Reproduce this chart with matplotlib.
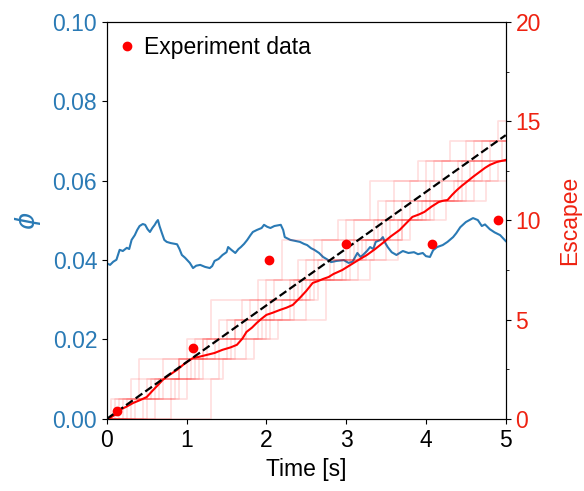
import matplotlib
matplotlib.use('Agg')
import matplotlib.pyplot as plt
from matplotlib.ticker import MultipleLocator

# phi (volume fraction)
phi_t = [0.0, 0.04, 0.08, 0.12, 0.16, 0.20, 0.25, 0.28, 0.31, 0.35, 0.38, 0.41,
         0.45, 0.48, 0.51, 0.54, 0.57, 0.60, 0.62, 0.64, 0.66, 0.69, 0.72, 0.75,
         0.80, 0.88, 0.91, 0.94, 0.98, 1.04, 1.08, 1.12, 1.17, 1.23, 1.29, 1.32,
         1.35, 1.40, 1.45, 1.50, 1.52, 1.56, 1.61, 1.65, 1.68, 1.72, 1.76, 1.80,
         1.83, 1.88, 1.94, 1.97, 2.01, 2.05, 2.10, 2.18, 2.21, 2.23, 2.30, 2.42,
         2.47, 2.51, 2.56, 2.60, 2.66, 2.71, 2.76, 2.81, 2.88, 2.97, 3.03, 3.08,
         3.14, 3.18, 3.21, 3.26, 3.30, 3.34, 3.37, 3.43, 3.46, 3.49, 3.52, 3.57,
         3.63, 3.67, 3.71, 3.78, 3.85, 3.90, 3.96, 4.00, 4.05, 4.09, 4.14, 4.21,
         4.27, 4.34, 4.38, 4.43, 4.50, 4.59, 4.65, 4.70, 4.74, 4.80, 4.86, 4.93,
         5.0]
phi_v = [0.0392, 0.0388, 0.0396, 0.0401, 0.0426, 0.0423, 0.0431, 0.0428, 0.0451,
         0.0463, 0.0476, 0.0486, 0.0491, 0.0489, 0.0478, 0.0471, 0.0481, 0.0489,
         0.0496, 0.0501, 0.0486, 0.0468, 0.0451, 0.0446, 0.0443, 0.0440, 0.0428,
         0.0413, 0.0406, 0.0393, 0.0380, 0.0386, 0.0388, 0.0383, 0.0380, 0.0385,
         0.0398, 0.0403, 0.0413, 0.0420, 0.0433, 0.0426, 0.0418, 0.0428, 0.0433,
         0.0441, 0.0451, 0.0463, 0.0471, 0.0476, 0.0481, 0.0489, 0.0484, 0.0481,
         0.0486, 0.0489, 0.0476, 0.0458, 0.0451, 0.0446, 0.0441, 0.0438, 0.0430,
         0.0426, 0.0418, 0.0408, 0.0402, 0.0395, 0.0398, 0.0400, 0.0393, 0.0396,
         0.0418, 0.0408, 0.0413, 0.0423, 0.0433, 0.0428, 0.0446, 0.0451, 0.0458,
         0.0443, 0.0433, 0.0420, 0.0413, 0.0418, 0.0423, 0.0418, 0.0420, 0.0415,
         0.0418, 0.0410, 0.0408, 0.0425, 0.0433, 0.0438, 0.0446, 0.0458, 0.0468,
         0.0483, 0.0496, 0.0506, 0.0501, 0.0486, 0.0490, 0.0478, 0.0470, 0.0463,
         0.0448]

# mean number of escapees (solid red)
mean_t = [0.0, 0.04, 0.10, 0.16, 0.24, 0.33, 0.42, 0.50, 0.58, 0.64, 0.70, 0.78,
          0.88, 0.98, 1.08, 1.15, 1.25, 1.35, 1.45, 1.55, 1.63, 1.70, 1.75, 1.82,
          1.88, 1.94, 2.00, 2.08, 2.17, 2.25, 2.33, 2.42, 2.50, 2.58, 2.65, 2.71,
          2.78, 2.84, 2.95, 3.05, 3.15, 3.26, 3.36, 3.46, 3.56, 3.67, 3.75, 3.83,
          3.91, 3.98, 4.07, 4.16, 4.22, 4.27, 4.33, 4.39, 4.45, 4.51, 4.59, 4.67,
          4.74, 4.80, 4.89, 5.0]
mean_v = [0.0, 0.05, 0.20, 0.45, 0.60, 0.80, 0.95, 1.10, 1.45, 1.70, 1.96, 2.20,
          2.47, 2.80, 3.07, 3.12, 3.22, 3.32, 3.48, 3.60, 3.73, 4.05, 4.38, 4.60,
          4.84, 5.05, 5.24, 5.35, 5.49, 5.60, 5.74, 6.10, 6.45, 6.85, 6.95, 7.05,
          7.15, 7.30, 7.50, 7.75, 8.00, 8.26, 8.55, 8.87, 9.20, 9.52, 9.85, 10.18,
          10.30, 10.43, 10.70, 10.93, 11.00, 11.03, 11.30, 11.54, 11.75, 11.94,
          12.20, 12.44, 12.65, 12.80, 12.95, 13.05]

# individual simulation runs: times of each escape (repeats = group escapes)
runs = [
    [0.1, 0.4, 0.4, 1.0, 1.3, 1.3, 1.9, 2.2, 2.2, 2.9, 3.3, 3.3, 3.9, 4.3, 4.9],
    [0.6, 0.6, 0.9, 1.5, 1.5, 1.8, 2.4, 2.4, 2.7, 3.4, 3.4, 3.8, 4.1, 4.6],
    [0.05, 0.3, 0.9, 1.2, 1.7, 1.7, 2.0, 2.6, 2.6, 3.0, 3.6, 3.6, 4.0, 4.5],
    [0.8, 0.8, 1.1, 1.1, 1.6, 2.1, 2.1, 2.5, 3.1, 3.1, 3.5, 4.2, 4.2, 4.8],
    [0.2, 0.5, 1.4, 1.4, 1.4, 2.3, 2.3, 2.8, 3.2, 3.7, 3.7, 4.4, 4.4],
    [0.35, 0.7, 0.7, 1.25, 1.9, 1.9, 2.45, 3.05, 3.05, 3.45, 4.05, 4.05, 4.7, 4.7],
    [0.15, 0.9, 0.9, 1.6, 1.6, 2.2, 2.65, 2.65, 3.25, 3.8, 3.8, 4.35, 4.9],
    [0.45, 1.0, 1.0, 1.35, 2.0, 2.0, 2.55, 3.15, 3.15, 3.55, 4.1, 4.6, 4.6],
    [0.25, 0.55, 1.05, 1.75, 1.75, 2.35, 2.35, 2.95, 3.35, 3.35, 3.95, 4.5, 4.8],
    [1.3, 1.3, 1.45, 1.85, 2.15, 2.75, 2.75, 3.3, 3.65, 3.65, 4.25, 4.75],
    [0.5, 0.85, 1.2, 1.2, 1.95, 2.5, 2.5, 2.85, 3.5, 3.5, 3.9, 4.45, 4.45, 4.95],
    [0.3, 0.65, 1.15, 1.55, 2.05, 2.05, 2.6, 3.0, 3.0, 3.7, 4.0, 4.0, 4.55],
]

# linear fit (dashed)
fit_t = [0.0, 5.0]
fit_v = [0.0, 14.3]

# experiment
exp_t = [0.125, 1.08, 2.03, 3.0, 4.07, 4.9]
exp_v = [0.4, 3.58, 8.0, 8.8, 8.8, 10.0]

blue = '#2a7ab5'
red = '#ee2211'

def main():
  plt.rcParams['font.family'] = ['Liberation Sans', 'DejaVu Sans']
  plt.rcParams['font.size'] = 16.5

  fig = plt.figure(figsize=(5.84, 4.91), dpi=100)
  ax = fig.add_axes([0.183, 0.147, 0.683, 0.808])
  ax2 = ax.twinx()

  ax.plot(phi_t, phi_v, color=blue, lw=1.5, zorder=3)
  ax.set_xlim(0, 5)
  ax.set_ylim(0, 0.10)
  ax.set_yticks([0, 0.02, 0.04, 0.06, 0.08, 0.10])
  ax.set_yticklabels(['0.00', '0.02', '0.04', '0.06', '0.08', '0.10'])
  ax.set_xlabel('Time [s]', labelpad=5)
  ax.set_ylabel(r'$\phi$', color=blue, labelpad=7, fontsize=19)
  ax.tick_params(axis='y', colors=blue)
  ax.tick_params(axis='y', color='black')

  for r in runs:
    xs = [0.0] + r + [5.0]
    ys = list(range(len(r) + 1)) + [len(r)]
    ax2.step(xs, ys, where='post', color='red', alpha=0.13, lw=1.2)

  ax2.plot(mean_t, mean_v, color='red', lw=1.5)
  ax2.plot(fit_t, fit_v, color='black', ls='--', lw=1.6)
  ax2.plot(exp_t, exp_v, 'o', color='red', ms=6, label='Experiment data',
           clip_on=False, zorder=5)
  ax2.set_ylim(0, 20)
  ax2.yaxis.set_major_locator(MultipleLocator(5))
  ax2.yaxis.set_minor_locator(MultipleLocator(2.5))
  ax2.set_ylabel('Escapee', color=red, labelpad=12)
  ax2.tick_params(axis='y', colors=red)
  ax2.tick_params(axis='y', which='both', color='black')

  ax2.legend(loc='upper left', bbox_to_anchor=(0.0, 0.987), frameon=False,
             handletextpad=0.2, handlelength=1.0, borderpad=0.2,
             borderaxespad=0.2)

  fig.savefig('out.png', dpi=100)


if __name__ == '__main__':
  main()
